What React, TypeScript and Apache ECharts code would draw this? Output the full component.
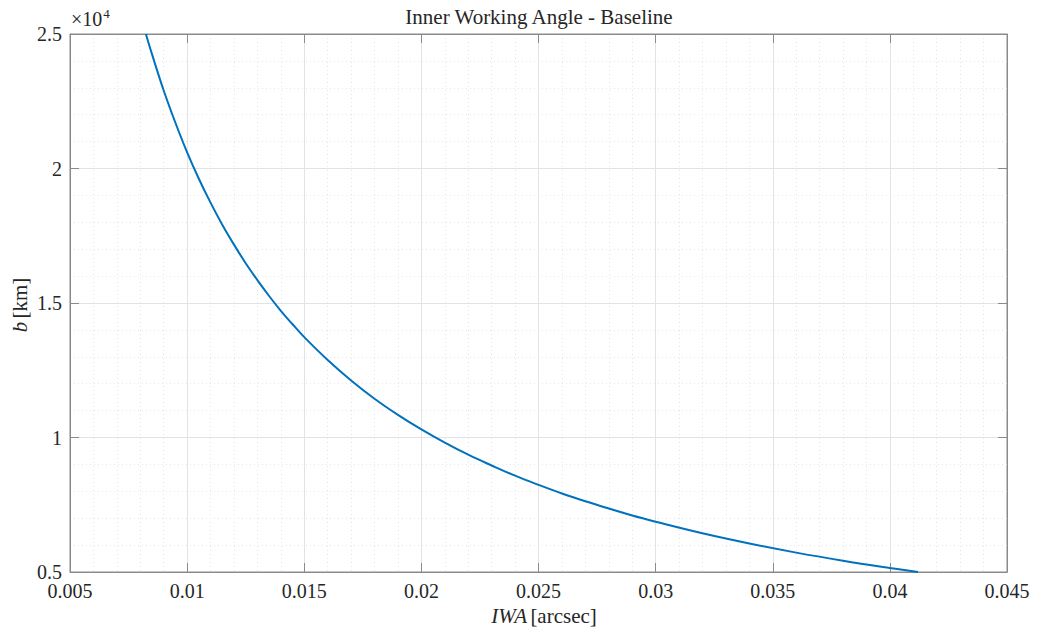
import React, { useEffect, useRef } from "react";
import * as echarts from "echarts";

// Inner working angle [arcsec] and baseline b [km] along the curve
const iwa = [
  0.00824, 0.0085, 0.009, 0.0095, 0.01, 0.0105, 0.011, 0.0115, 0.012, 0.0125,
  0.013, 0.0135, 0.014, 0.0145, 0.015, 0.016, 0.017, 0.018, 0.019, 0.02,
  0.021, 0.022, 0.023, 0.024, 0.025, 0.026, 0.027, 0.028, 0.029, 0.03,
  0.032, 0.034, 0.036, 0.038, 0.04, 0.0412,
];
const baseline = [
  25000, 24250, 22900, 21700, 20600, 19620, 18730, 17910, 17170, 16480,
  15850, 15260, 14710, 14210, 13730, 12880, 12120, 11440, 10840, 10300,
  9810, 9360, 8960, 8580, 8240, 7920, 7630, 7360, 7100, 6870,
  6440, 6060, 5720, 5420, 5150, 5000,
];

const xTicks = [0.005, 0.01, 0.015, 0.02, 0.025, 0.03, 0.035, 0.04, 0.045];
const yTickLabels = ["0.5", "1", "1.5", "2", "2.5"];

const FONT = "'Liberation Serif', 'DejaVu Serif', serif";
const AXIS_COLOR = "#8a8a8a";
const TEXT_COLOR = "#262626";

export default function App() {
  const ref = useRef<HTMLDivElement>(null);

  useEffect(() => {
    if (!ref.current) return;
    const chart = echarts.init(ref.current, undefined, { renderer: "svg" });

    const grid = { left: 70, right: 31, top: 34, bottom: 58 };
    const majorSplit = { show: true, lineStyle: { color: "#e3e3e3", width: 1, type: "solid" as const } };
    const minorSplit = { show: true, lineStyle: { color: "#e6e6e6", width: 1, type: [1, 3] as any } };
    const tickStyle = { show: true, inside: true, length: 9, lineStyle: { color: AXIS_COLOR, width: 1 } };

    const xData = iwa.map((x, i) => [x, baseline[i]]);

    chart.setOption({
      animation: false,
      backgroundColor: "#ffffff",
      grid: { ...grid, show: true, borderColor: AXIS_COLOR, borderWidth: 1 },
      xAxis: [
        {
          type: "value",
          min: 0.005,
          max: 0.045,
          interval: 0.005,
          axisLine: { show: true, lineStyle: { color: AXIS_COLOR } },
          axisTick: tickStyle,
          minorTick: { show: false, splitNumber: 5 },
          splitLine: majorSplit,
          minorSplitLine: minorSplit,
          axisLabel: {
            color: TEXT_COLOR,
            fontFamily: FONT,
            fontSize: 20,
            margin: 9,
            formatter: (v: number) => {
              const idx = xTicks.findIndex((t) => Math.abs(t - v) < 1e-9);
              return idx >= 0 ? String(xTicks[idx]) : "";
            },
          },
        },
        {
          type: "value",
          position: "top",
          min: 0.005,
          max: 0.045,
          interval: 0.005,
          axisLine: { show: true, lineStyle: { color: AXIS_COLOR } },
          axisTick: tickStyle,
          axisLabel: { show: false },
          splitLine: { show: false },
        },
      ],
      yAxis: [
        {
          type: "value",
          min: 5000,
          max: 25000,
          interval: 5000,
          axisLine: { show: true, lineStyle: { color: AXIS_COLOR } },
          axisTick: tickStyle,
          minorTick: { show: false, splitNumber: 5 },
          splitLine: majorSplit,
          minorSplitLine: minorSplit,
          axisLabel: {
            color: TEXT_COLOR,
            fontFamily: FONT,
            fontSize: 20,
            margin: 8,
            formatter: (v: number) => {
              const idx = Math.round((v - 5000) / 5000);
              return yTickLabels[idx] ?? "";
            },
          },
        },
        {
          type: "value",
          position: "right",
          min: 5000,
          max: 25000,
          interval: 5000,
          axisLine: { show: true, lineStyle: { color: AXIS_COLOR } },
          axisTick: tickStyle,
          axisLabel: { show: false },
          splitLine: { show: false },
        },
      ],
      series: [
        {
          type: "line",
          data: xData,
          smooth: 0.4,
          showSymbol: false,
          lineStyle: { color: "#0072BD", width: 2 },
          clip: true,
        },
      ],
      graphic: [
        {
          type: "text",
          x: 539,
          y: 17,
          style: {
            text: "Inner Working Angle - Baseline",
            font: `21px ${FONT}`,
            fill: TEXT_COLOR,
            align: "center",
            verticalAlign: "middle",
          },
        },
        {
          type: "text",
          x: 71,
          y: 7,
          style: {
            text: "{a|×10}{s|4}",
            fill: TEXT_COLOR,
            rich: {
              a: { fontFamily: FONT, fontSize: 20, fill: TEXT_COLOR, verticalAlign: "bottom" },
              s: { fontFamily: FONT, fontSize: 13, fill: TEXT_COLOR, padding: [0, 0, 9, 1] },
            },
          },
        },
        {
          type: "text",
          x: 544,
          y: 616,
          style: {
            text: "{i|IWA} {r|[arcsec]}",
            align: "center",
            verticalAlign: "middle",
            fill: TEXT_COLOR,
            rich: {
              i: { fontFamily: FONT, fontSize: 21, fontStyle: "italic", fill: TEXT_COLOR },
              r: { fontFamily: FONT, fontSize: 21, fill: TEXT_COLOR },
            },
          },
        },
        {
          type: "text",
          x: 20,
          y: 305,
          rotation: Math.PI / 2,
          style: {
            text: "{i|b} {r|[km]}",
            align: "center",
            verticalAlign: "middle",
            fill: TEXT_COLOR,
            rich: {
              i: { fontFamily: FONT, fontSize: 21, fontStyle: "italic", fill: TEXT_COLOR },
              r: { fontFamily: FONT, fontSize: 21, fill: TEXT_COLOR },
            },
          },
        },
      ],
    });

    return () => chart.dispose();
  }, []);

  return (
    <div
      ref={ref}
      style={{ position: "fixed", left: 0, top: 0, width: 1038, height: 630, background: "#fff" }}
    />
  );
}
